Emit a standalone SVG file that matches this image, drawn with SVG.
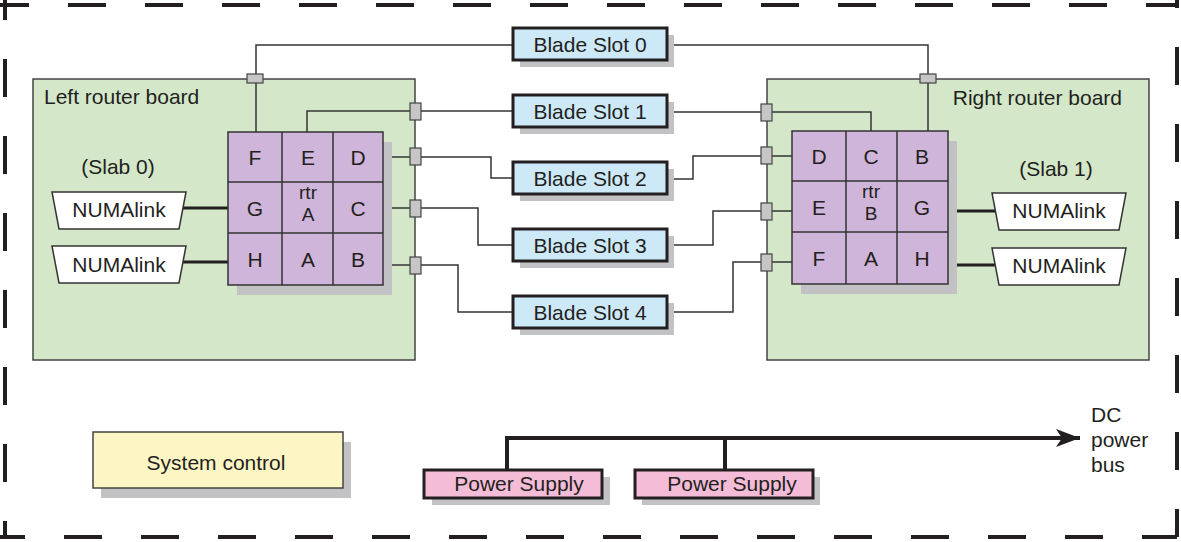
<svg xmlns="http://www.w3.org/2000/svg" width="1181" height="542" viewBox="0 0 1181 542">
<style>
text{font-family:"Liberation Sans",Arial,sans-serif;font-size:21px;fill:#231f20}
.mid{text-anchor:middle}
.sm{font-size:19px}
.border{fill:none;stroke:#231f20;stroke-width:4;stroke-dasharray:38 39}
.board{fill:#d4e8c9;stroke:#444;stroke-width:1.5}
.shadow{fill:#c2c2c4}
.cell{fill:#cfb5d9;stroke:#333;stroke-width:1.5}
.slot{fill:#cde9f8;stroke:#231f20;stroke-width:3}
.wire{fill:none;stroke:#333;stroke-width:1.5}
.thick{fill:none;stroke:#231f20;stroke-width:3}
.pin{fill:#c6c6c6;stroke:#444;stroke-width:1.2}
.numa{fill:#fff;stroke:#333;stroke-width:1.5}
.ps{fill:#f4bcd6;stroke:#231f20;stroke-width:3}
.sys{fill:#fdf5c3;stroke:#444;stroke-width:1.5}
.bus{fill:none;stroke:#231f20;stroke-width:4}
</style>
<defs>
<marker id="arrow" markerUnits="userSpaceOnUse" markerWidth="26" markerHeight="22" refX="24" refY="11" orient="auto">
<path d="M0,2 L24,11 L0,20 L6,11 Z" fill="#231f20"/>
</marker>
</defs>

<g id="frame">
<path class="border" d="M-9,5 H1177"/>
<path class="border" d="M5,-18 V537"/>
<path class="border" d="M-13,537 H1177"/>
<path class="border" d="M1177,-30 V537"/>
</g>

<g id="left-board">
<rect class="board" x="33" y="79" width="382" height="281"/>
<text x="44" y="104">Left router board</text>
<text class="mid" x="118" y="174">(Slab 0)</text>
</g>

<g id="right-board">
<rect class="board" x="767" y="79" width="382" height="281"/>
<text x="1122" y="105" text-anchor="end">Right router board</text>
<text class="mid" x="1056" y="176">(Slab 1)</text>
</g>

<g id="connectors">
<path class="wire" d="M256,132 V45 H513"/>
<path class="wire" d="M667,45 H928 V131"/>
<path class="wire" d="M307,132 V111 H513"/>
<path class="wire" d="M667,112 H871 V131"/>
<path class="wire" d="M383,157 H491 V178 H513"/>
<path class="wire" d="M667,179 H693 V156 H792"/>
<path class="wire" d="M383,208 H478 V245 H513"/>
<path class="wire" d="M667,245 H713 V211 H792"/>
<path class="wire" d="M383,265 H458 V312 H513"/>
<path class="wire" d="M667,312 H733 V262 H792"/>
<path class="thick" d="M182,208 H228"/>
<path class="thick" d="M182,262 H228"/>
<path class="thick" d="M948,211 H996"/>
<path class="thick" d="M948,265 H996"/>
<path class="bus" d="M507,470 V438 H1080" marker-end="url(#arrow)"/>
<path class="bus" d="M725,470 V438"/>
<rect class="pin" x="247" y="74" width="16" height="9"/>
<rect class="pin" x="920" y="74" width="16" height="9"/>
<rect class="pin" x="410" y="103" width="11" height="17"/>
<rect class="pin" x="410" y="148" width="11" height="17"/>
<rect class="pin" x="410" y="200" width="11" height="17"/>
<rect class="pin" x="410" y="257" width="11" height="17"/>
<rect class="pin" x="761" y="104" width="11" height="17"/>
<rect class="pin" x="761" y="147" width="11" height="17"/>
<rect class="pin" x="761" y="203" width="11" height="17"/>
<rect class="pin" x="761" y="254" width="11" height="17"/>
</g>

<g id="router-a">
<rect class="shadow" x="237" y="142" width="155" height="153"/>
<rect class="cell" x="228" y="132" width="155" height="153"/>
<path class="wire" d="M282,132 V285 M333,132 V285 M228,182 H383 M228,233 H383"/>
<text class="mid" x="255" y="165">F</text>
<text class="mid" x="308" y="165">E</text>
<text class="mid" x="358" y="165">D</text>
<text class="mid" x="255" y="216">G</text>
<text class="mid sm" x="308" y="199">rtr</text>
<text class="mid sm" x="308" y="221">A</text>
<text class="mid" x="358" y="216">C</text>
<text class="mid" x="255" y="267">H</text>
<text class="mid" x="308" y="267">A</text>
<text class="mid" x="358" y="267">B</text>
</g>

<g id="router-b">
<rect class="shadow" x="801" y="141" width="156" height="153"/>
<rect class="cell" x="792" y="131" width="156" height="153"/>
<path class="wire" d="M846,131 V284 M897,131 V284 M792,181 H948 M792,232 H948"/>
<text class="mid" x="819" y="164">D</text>
<text class="mid" x="871" y="164">C</text>
<text class="mid" x="922" y="164">B</text>
<text class="mid" x="819" y="215">E</text>
<text class="mid sm" x="871" y="198">rtr</text>
<text class="mid sm" x="871" y="220">B</text>
<text class="mid" x="922" y="215">G</text>
<text class="mid" x="819" y="266">F</text>
<text class="mid" x="871" y="266">A</text>
<text class="mid" x="922" y="266">H</text>
</g>

<g id="numalink-l0">
<path class="numa" d="M52,192 H186 L179,229 H59 Z"/>
<text class="mid" x="119" y="217">NUMAlink</text>
</g>
<g id="numalink-l1">
<path class="numa" d="M52,246 H186 L179,283 H59 Z"/>
<text class="mid" x="119" y="272">NUMAlink</text>
</g>
<g id="numalink-r0">
<path class="numa" d="M992,193 H1126 L1119,230 H999 Z"/>
<text class="mid" x="1059" y="218">NUMAlink</text>
</g>
<g id="numalink-r1">
<path class="numa" d="M992,248 H1126 L1119,285 H999 Z"/>
<text class="mid" x="1059" y="273">NUMAlink</text>
</g>

<g id="slot0">
<rect class="shadow" x="520" y="35" width="154" height="32"/>
<rect class="slot" x="513" y="28" width="154" height="32"/>
<text class="mid" x="590" y="52">Blade Slot 0</text>
</g>
<g id="slot1">
<rect class="shadow" x="520" y="102" width="154" height="32"/>
<rect class="slot" x="513" y="95" width="154" height="32"/>
<text class="mid" x="590" y="119">Blade Slot 1</text>
</g>
<g id="slot2">
<rect class="shadow" x="520" y="169" width="154" height="32"/>
<rect class="slot" x="513" y="162" width="154" height="32"/>
<text class="mid" x="590" y="186">Blade Slot 2</text>
</g>
<g id="slot3">
<rect class="shadow" x="520" y="236" width="154" height="32"/>
<rect class="slot" x="513" y="229" width="154" height="32"/>
<text class="mid" x="590" y="253">Blade Slot 3</text>
</g>
<g id="slot4">
<rect class="shadow" x="520" y="303" width="154" height="32"/>
<rect class="slot" x="513" y="296" width="154" height="32"/>
<text class="mid" x="590" y="320">Blade Slot 4</text>
</g>

<g id="system-control">
<rect class="shadow" x="101" y="442" width="250" height="56"/>
<rect class="sys" x="93" y="432" width="250" height="56"/>
<text class="mid" x="216" y="470">System control</text>
</g>

<g id="power-supply-1">
<rect class="shadow" x="432" y="477" width="178" height="28"/>
<rect class="ps" x="424" y="470" width="178" height="28"/>
<text class="mid" x="519" y="491">Power Supply</text>
</g>
<g id="power-supply-2">
<rect class="shadow" x="642" y="477" width="178" height="28"/>
<rect class="ps" x="635" y="470" width="178" height="28"/>
<text class="mid" x="732" y="491">Power Supply</text>
</g>

<g id="dc-bus-label">
<text x="1091" y="422">DC</text>
<text x="1091" y="447">power</text>
<text x="1091" y="472">bus</text>
</g>
</svg>
